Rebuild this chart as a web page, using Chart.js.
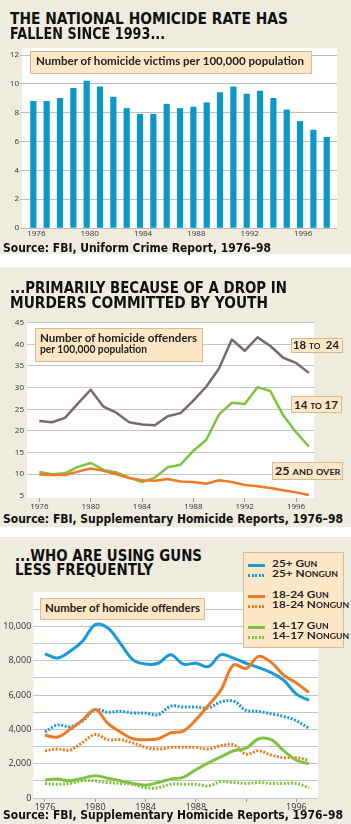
<!DOCTYPE html>
<html>
<head>
<meta charset="utf-8">
<script src="https://cdn.jsdelivr.net/npm/chart.js@4.4.1/dist/chart.umd.min.js"></script>
<style>
  html, body { margin: 0; padding: 0; }
  body { width: 351px; height: 824px; position: relative; overflow: hidden; background: #fff; }
  .panel { position: absolute; left: 0; width: 351px; background: #eeebdf; }
  .ttl, .src, .note, .tag, .leg { position: absolute; white-space: nowrap; transform-origin: 0 0; }
  .ttl { font: bold 15px/15px "DejaVu Sans", sans-serif; color: #111; }
  .src { font: bold 13px/13px "DejaVu Sans Condensed", "DejaVu Sans", sans-serif; color: #111; }
  .box { position: absolute; background: #fde7c6; border: 1px solid #d8bb93; box-sizing: border-box; }
  .note { font: bold 10.5px/11px Lato, sans-serif; color: #222; }
  .tag { font: bold 11px/11px Lato, sans-serif; font-variant: small-caps; color: #222; }
  .leg { font: bold 9.5px/10px Lato, sans-serif; font-variant: small-caps; color: #222; }
  .swatch { position: absolute; height: 3px; width: 17px; }
  canvas { position: absolute; left: 0; }
</style>
</head>
<body>
<div class="panel" style="top:0;height:254px"></div>
<div class="panel" style="top:267px;height:260px"></div>
<div class="panel" style="top:537px;height:287px"></div>

<canvas id="chart1" width="351" height="202" style="top:40px"></canvas>
<canvas id="chart2" width="351" height="200" style="top:310px"></canvas>
<canvas id="chart3" width="351" height="230" style="top:580px"></canvas>

<div class="ttl" data-w="278" style="left:10px;top:11.5px">THE NATIONAL HOMICIDE RATE HAS</div>
<div class="ttl" data-w="155" style="left:10px;top:27px">FALLEN SINCE 1993...</div>
<div class="box" style="left:30px;top:51px;width:282px;height:23px"></div>
<div class="note" data-w="268" style="left:36px;top:56.3px">Number of homicide victims per 100,000 population</div>
<div class="src" data-w="268" style="left:3px;top:241px">Source: FBI, Uniform Crime Report, 1976–98</div>

<div class="ttl" data-w="277" style="left:10px;top:281px">...PRIMARILY BECAUSE OF A DROP IN</div>
<div class="ttl" data-w="258" style="left:10px;top:295.5px">MURDERS COMMITTED BY YOUTH</div>
<div class="box" style="left:35px;top:328px;width:168px;height:34px"></div>
<div class="note" data-w="157" style="left:40px;top:333px">Number of homicide offenders</div>
<div class="note" data-w="107" style="left:40px;top:343.7px">per 100,000 population</div>
<div class="box" style="left:290.5px;top:337.5px;width:52px;height:15px"></div>
<div class="tag" data-w="46" style="left:293.3px;top:339px">18 to&nbsp; 24</div>
<div class="box" style="left:290.5px;top:396px;width:51px;height:16.5px"></div>
<div class="tag" data-w="44" style="left:294px;top:399px">14 to 17</div>
<div class="box" style="left:272px;top:461.7px;width:71px;height:18.3px"></div>
<div class="tag" data-w="65.5" style="left:275px;top:465px">25 and over</div>
<div class="src" data-w="340" style="left:3px;top:511.8px">Source: FBI, Supplementary Homicide Reports, 1976–98</div>

<div class="ttl" data-w="187" style="left:15px;top:549px">...WHO ARE USING GUNS</div>
<div class="ttl" data-w="138" style="left:15px;top:563px">LESS FREQUENTLY</div>
<div class="box" style="left:40px;top:598px;width:165px;height:22px"></div>
<div class="note" data-w="155" style="left:45px;top:603px">Number of homicide offenders</div>
<div class="box" id="legend" style="left:243.3px;top:552.3px;width:101px;height:96px"></div>
<div class="src" data-w="340" style="left:3px;top:808.4px">Source: FBI, Supplementary Homicide Reports, 1976–98</div>

<script>
// victims per 100,000 (top panel)
const victimYears = [1976, 1977, 1978, 1979, 1980, 1981, 1982, 1983, 1984, 1985, 1986, 1987, 1988, 1989, 1990, 1991, 1992, 1993, 1994, 1995, 1996, 1997, 1998];
const victimRate = [8.8, 8.8, 9.0, 9.7, 10.2, 9.8, 9.1, 8.3, 7.9, 7.9, 8.6, 8.3, 8.4, 8.7, 9.4, 9.8, 9.3, 9.5, 9.0, 8.2, 7.4, 6.8, 6.3];

// offenders per 100,000 by age (middle panel)
const offYears = [1976, 1977, 1978, 1979, 1980, 1981, 1982, 1983, 1984, 1985, 1986, 1987, 1988, 1989, 1990, 1991, 1992, 1993, 1994, 1995, 1996, 1997];
const rate18to24 = [22.3, 22.0, 23.0, 26.3, 29.5, 25.6, 24.2, 22.0, 21.5, 21.3, 23.4, 24.1, 27.0, 30.2, 34.4, 41.1, 38.5, 41.6, 39.6, 36.9, 35.7, 33.4];
const rate14to17 = [10.5, 10.0, 10.2, 11.7, 12.6, 11.0, 10.4, 9.2, 8.2, 9.2, 11.6, 12.2, 15.4, 17.9, 23.8, 26.5, 26.2, 30.1, 29.2, 23.6, 19.7, 16.4];
const rate25up = [9.9, 9.8, 9.8, 10.6, 11.3, 10.8, 10.0, 9.1, 8.6, 8.5, 8.9, 8.3, 8.2, 7.8, 8.6, 8.2, 7.5, 7.2, 6.8, 6.3, 5.8, 5.2];

// offenders, gun vs nongun (bottom panel)
const gun25 = [8400, 8150, 8550, 9150, 10100, 9900, 9000, 8050, 7800, 7850, 8350, 7800, 7850, 7650, 8350, 8150, 7850, 7600, 7300, 6850, 6050, 5700];
const nongun25 = [3850, 4250, 4150, 4500, 5150, 5000, 5050, 4950, 4950, 4850, 5350, 5300, 5300, 5250, 5600, 5650, 5100, 5050, 4900, 4750, 4500, 4050];
const gun18to24 = [3650, 3550, 4000, 4550, 5150, 4350, 3850, 3450, 3400, 3450, 3800, 3900, 4550, 5400, 6300, 7750, 7550, 8250, 7900, 7150, 6700, 6150];
const nongun18to24 = [2750, 2850, 2800, 3250, 3700, 3400, 3400, 3200, 2950, 2850, 2950, 2950, 2950, 2850, 3050, 3100, 2550, 2750, 2500, 2350, 2350, 2200];
const gun14to17 = [1050, 1100, 1000, 1150, 1300, 1150, 1000, 850, 750, 900, 1100, 1200, 1650, 2050, 2400, 2750, 2900, 3450, 3400, 2750, 2200, 2000];
const nongun14to17 = [850, 800, 850, 1000, 1000, 900, 850, 800, 600, 600, 800, 800, 800, 700, 950, 900, 850, 900, 850, 850, 850, 600];

// tick labels
const yearTicks = [1976, 1980, 1984, 1988, 1992, 1996];
const yearLabels3 = ["1976", "1980", "1984", "1988", "", "1996"];
const rateTicks = [0, 2, 4, 6, 8, 10, 12];
const offTicks = [5, 10, 15, 20, 25, 30, 35, 40, 45];
const countTicks = [0, 1000, 2000, 3000, 4000, 5000, 6000, 7000, 8000, 9000, 10000, 11000];

const BLUE = "#1a9ad6", ORANGE = "#ef7a24", GREEN = "#80c342", MAUVE = "#7a6a6f";
const tickFont = { family: "'Open Sans', sans-serif", size: 8 };

const plotBg = {
  id: "plotBg",
  beforeDraw(c) {
    const a = c.chartArea, ctx = c.ctx;
    ctx.save();
    ctx.fillStyle = "#fff";
    ctx.fillRect(a.left, a.top, a.right - a.left, a.bottom - a.top);
    ctx.restore();
  }
};

function pts(xs, ys) {
  return xs.map((x, i) => ({ x: x, y: ys[i] }));
}

Chart.defaults.animation = false;
Chart.defaults.responsive = false;
Chart.defaults.plugins.legend.display = false;
Chart.defaults.plugins.tooltip.enabled = false;

// top: bars
new Chart(document.getElementById("chart1"), {
  type: "bar",
  data: {
    datasets: [{
      data: pts(victimYears, victimRate),
      backgroundColor: "#0a98c9",
      barThickness: 5.5
    }]
  },
  options: {
    layout: { padding: { top: 8, right: 14, left: 0, bottom: 0 } },
    scales: {
      x: {
        type: "linear", min: 1975.15, max: 1998.77, offset: false,
        grid: { display: false, drawTicks: false, offset: false }, border: { display: false },
        afterBuildTicks: s => { s.ticks = yearTicks.map(v => ({ value: v })); },
        afterFit: s => { s.height = 14; },
        ticks: { autoSkip: false, maxRotation: 0, padding: 1, labelOffset: 3, color: "#333", font: tickFont, callback: v => String(v) }
      },
      y: {
        min: 0, max: 12.5,
        grid: { color: "#bdbdbd", tickLength: 2 }, border: { display: false },
        afterBuildTicks: s => { s.ticks = rateTicks.map(v => ({ value: v })); },
        afterFit: s => { s.width = 22; },
        ticks: { padding: 1, color: "#333", font: tickFont }
      }
    }
  },
  plugins: [plotBg]
});

// middle: rate lines
new Chart(document.getElementById("chart2"), {
  type: "line",
  data: {
    datasets: [
      { data: pts(offYears, rate25up), borderColor: ORANGE },
      { data: pts(offYears, rate14to17), borderColor: GREEN },
      { data: pts(offYears, rate18to24), borderColor: MAUVE }
    ]
  },
  options: {
    elements: { point: { radius: 0 }, line: { borderWidth: 2.5, tension: 0, borderJoinStyle: "round" } },
    layout: { padding: { top: 12, right: 37, left: 0, bottom: 0 } },
    scales: {
      x: {
        type: "linear", min: 1975.04, max: 1997.4,
        grid: { drawOnChartArea: false, tickLength: 4, color: "#999" }, border: { display: false },
        afterBuildTicks: s => { s.ticks = yearTicks.map(v => ({ value: v })); },
        afterFit: s => { s.height = 12; },
        ticks: { autoSkip: false, maxRotation: 0, padding: 0, color: "#333", font: tickFont, callback: v => String(v) }
      },
      y: {
        min: 4.5, max: 45.15,
        grid: { drawTicks: false, color: c => c.tick.value === 5 ? "rgba(0,0,0,0)" : "#c4c4c4" },
        border: { display: false },
        afterBuildTicks: s => { s.ticks = offTicks.map(v => ({ value: v })); },
        afterFit: s => { s.width = 27; },
        ticks: { padding: 3, color: "#333", font: tickFont }
      }
    }
  },
  plugins: [plotBg]
});

// bottom: gun / nongun
const gunSeries = [
  { label: "25+ Gun", data: gun25, color: BLUE, dotted: false },
  { label: "25+ Nongun", data: nongun25, color: BLUE, dotted: true },
  { label: "18-24 Gun", data: gun18to24, color: ORANGE, dotted: false },
  { label: "18-24 Nongun", data: nongun18to24, color: ORANGE, dotted: true },
  { label: "14-17 Gun", data: gun14to17, color: GREEN, dotted: false },
  { label: "14-17 Nongun", data: nongun14to17, color: GREEN, dotted: true }
];
const drawOrder = [2, 0, 4, 1, 3, 5];

new Chart(document.getElementById("chart3"), {
  type: "line",
  data: {
    datasets: drawOrder.map(i => {
      const s = gunSeries[i];
      return {
        label: s.label,
        data: pts(offYears, s.data),
        borderColor: s.color,
        borderWidth: 3,
        borderDash: s.dotted ? [2, 1.6] : [],
        borderCapStyle: "butt"
      };
    })
  },
  options: {
    elements: { point: { radius: 0 }, line: { tension: 0.35 } },
    layout: { padding: { top: 12, right: 33, left: 0, bottom: 0 } },
    scales: {
      x: {
        type: "linear", min: 1975.07, max: 1997.72,
        grid: { drawOnChartArea: false, tickLength: 4, color: "#999" }, border: { display: false },
        afterBuildTicks: s => { s.ticks = yearTicks.map(v => ({ value: v })); },
        afterFit: s => { s.height = 12; },
        ticks: { autoSkip: false, maxRotation: 0, padding: 0, color: "#333", font: { family: tickFont.family, size: 9 },
          callback: (v, i) => yearLabels3[i] }
      },
      y: {
        min: 0, max: 12000,
        grid: { drawTicks: false, color: "#c4c4c4" }, border: { display: false },
        afterBuildTicks: s => { s.ticks = countTicks.map(v => ({ value: v })); },
        afterFit: s => { s.width = 33.3; },
        ticks: { padding: 2, color: "#333", font: { family: tickFont.family, size: 9 },
          callback: v => v % 2000 ? "" : v.toLocaleString("en-US") }
      }
    }
  },
  plugins: [plotBg]
});

// legend for the bottom panel, built from the series list
const rowTops = [558.6, 568.6, 590.3, 600.3, 621.3, 631.3];
gunSeries.forEach((s, i) => {
  const sw = document.createElement("div");
  sw.className = "swatch";
  sw.style.left = "248px";
  sw.style.top = (rowTops[i] + 5) + "px";
  sw.style.background = s.dotted
    ? "repeating-linear-gradient(90deg," + s.color + " 0 2px, transparent 2px 3.6px)"
    : s.color;
  document.body.appendChild(sw);
  const t = document.createElement("div");
  t.className = "leg";
  t.textContent = s.label;
  t.style.left = "272.3px";
  t.style.top = rowTops[i] + "px";
  document.body.appendChild(t);
});

// squeeze text to the widths in the original
document.querySelectorAll("[data-w]").forEach(el => {
  const w = el.getBoundingClientRect().width;
  el.style.transform = "scaleX(" + (parseFloat(el.dataset.w) / w) + ")";
});
const legRows = document.querySelectorAll(".leg");
const k = 66 / legRows[1].getBoundingClientRect().width;
legRows.forEach(el => { el.style.transform = "scaleX(" + k + ")"; });
</script>
</body>
</html>
